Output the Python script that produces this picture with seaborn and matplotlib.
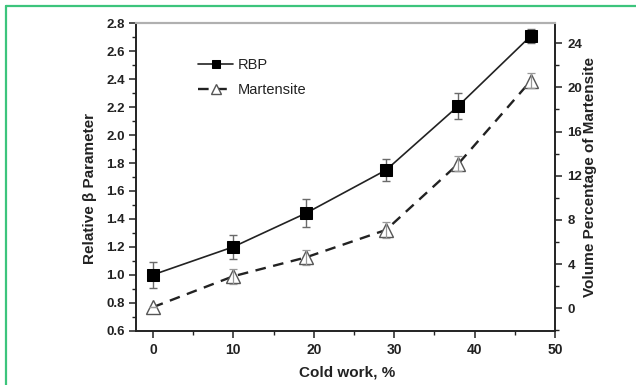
import numpy as np
import pandas as pd
import matplotlib
matplotlib.use("Agg")
import matplotlib.pyplot as plt
import seaborn as sns
from matplotlib.lines import Line2D
from matplotlib.ticker import MultipleLocator

# ---- data ----
cold_work = [0, 10, 19, 29, 38, 47]
rbp = [1.00, 1.20, 1.44, 1.75, 2.21, 2.71]
rbp_err = [0.095, 0.086, 0.10, 0.08, 0.092, 0.048]
martensite = [0.1, 2.9, 4.6, 7.1, 13.1, 20.6]
martensite_err = [0.0, 0.7, 0.7, 0.7, 0.7, 0.7]
x_ticks = [0, 10, 20, 30, 40, 50]
left_ticks = [0.6, 0.8, 1.0, 1.2, 1.4, 1.6, 1.8, 2.0, 2.2, 2.4, 2.6, 2.8]
right_ticks = [0, 4, 8, 12, 16, 20, 24]
series_names = ["RBP", "Martensite"]

sns.set_theme(style="ticks")
plt.rcParams['font.family'] = ['Liberation Sans', 'DejaVu Sans']

W, H = 636, 385
fig = plt.figure(figsize=(W / 100, H / 100), dpi=100)
L, R, T, B = 136, 555, 23.3, 330.7
ax = fig.add_axes([L / W, 1 - B / H, (R - L) / W, (B - T) / H])
ax2 = ax.twinx()

df = pd.DataFrame({"cold_work": cold_work, "rbp": rbp, "martensite": martensite})

# RBP (left axis)
ax.errorbar(cold_work, rbp, yerr=rbp_err, fmt="none", ecolor="#6a6a6a",
            elinewidth=1.0, capsize=3, capthick=1.0, zorder=2)
sns.lineplot(data=df, x="cold_work", y="rbp", ax=ax, color="#222222", lw=1.2,
             marker="s", markersize=8.5, markerfacecolor="black",
             markeredgecolor="black", legend=False, zorder=3)
h1 = ax.lines[-1]

# Martensite (right axis)
sns.lineplot(data=df, x="cold_work", y="martensite", ax=ax2, color="#222222",
             lw=1.7, linestyle=(0, (4.5, 3.2)), marker="^", markersize=10.5,
             markerfacecolor="white", markeredgecolor="#555555",
             markeredgewidth=1.0, legend=False, zorder=3)
h2 = ax2.lines[-1]
ax2.errorbar(cold_work, martensite, yerr=martensite_err, fmt="none",
             ecolor="#999999", elinewidth=0.9, capsize=3, capthick=0.9, zorder=4)

# axes limits & ticks
ax.set_xlim(-2.1, 50)
ax.set_ylim(0.6, 2.8)
ax2.set_ylim(-2.03, 25.8)
ax.set_xticks(x_ticks)
ax.set_yticks(left_ticks)
ax2.set_yticks(right_ticks)
ax.set_xticklabels([str(v) for v in x_ticks])
ax.set_yticklabels([f"{v:.1f}" for v in left_ticks])
ax2.set_yticklabels([str(v) for v in right_ticks])
ax.xaxis.set_minor_locator(MultipleLocator(5))
ax.yaxis.set_minor_locator(MultipleLocator(0.1))
ax2.yaxis.set_minor_locator(MultipleLocator(2))

for a in (ax, ax2):
    a.tick_params(which="major", direction="out", length=5, width=1.1,
                  colors="#222222", pad=3)
    a.tick_params(which="minor", direction="out", length=3, width=1.0,
                  colors="#222222")
ax.tick_params(axis="x", labelsize=10, pad=4)
ax.tick_params(axis="y", labelsize=9.5)
ax2.tick_params(axis="y", labelsize=9.5, pad=4)
for a in (ax, ax2):
    for lab in a.get_xticklabels() + a.get_yticklabels():
        lab.set_fontweight("bold")
ax.tick_params(axis="x", top=False, which="both")
ax2.tick_params(axis="x", top=False, which="both")

for a in (ax, ax2):
    for s in ("left", "right", "bottom"):
        a.spines[s].set_color("#222222")
        a.spines[s].set_linewidth(1.2)
    a.spines["top"].set_color("#b0b0b0")
    a.spines["top"].set_linewidth(1.5)

# labels
ax.set_xlabel("Cold work, %", fontsize=11, fontweight="bold", color="#222222")
ax.set_ylabel("Relative \u03b2 Parameter", fontsize=11, fontweight="bold", color="#222222")
ax2.set_ylabel("Volume Percentage of Martensite", fontsize=11, fontweight="bold", color="#222222")
ax.xaxis.set_label_coords(0.504, -0.113)
ax.yaxis.set_label_coords(-0.092, 0.461)
ax2.yaxis.set_label_coords(1.068, 0.501)

# legend
leg = ax2.legend([h1, h2], series_names, loc="upper left",
                 bbox_to_anchor=(0.148, 0.887), frameon=False, fontsize=10.5,
                 handlelength=2.4, handletextpad=0.35, labelspacing=0.75,
                 borderpad=0, borderaxespad=0, numpoints=1, markerscale=0.7)
for t in leg.get_texts():
    t.set_color("#222222")

# green frame (top and left edges)
green = "#3cc47c"
fig.add_artist(Line2D([6 / W, 1.0], [1 - 6 / H, 1 - 6 / H], transform=fig.transFigure,
                      color=green, lw=1.6))
fig.add_artist(Line2D([6 / W, 6 / W], [0.0, 1 - 6 / H], transform=fig.transFigure,
                      color=green, lw=1.6))

fig.savefig("out.png", dpi=100, facecolor="white")
